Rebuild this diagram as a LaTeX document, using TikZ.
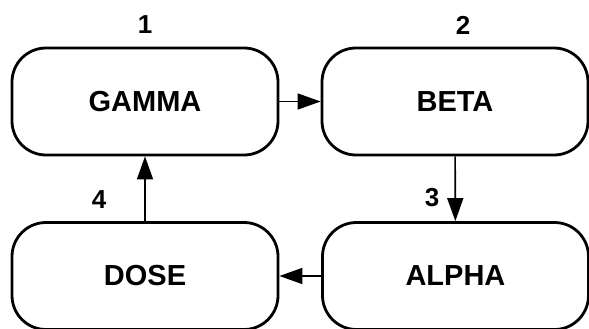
\documentclass[tikz,border=0pt]{standalone}
\usepackage{fontspec}
\setmainfont{Liberation Sans}
\usetikzlibrary{
    arrows.meta,
    positioning
}
\tikzset{
    stage/.style={draw, rectangle, rounded corners=34pt, line width=2.8pt,
        minimum width=266pt, minimum height=107pt, font=\fontsize{29}{32}\selectfont\bfseries},
    num/.style={font=\fontsize{26}{29}\selectfont\bfseries},
    flow/.style={line width=1.6pt, -{Triangle[length=23pt,width=16pt]}}
}

\begin{document}
\begin{tikzpicture}[x=1pt, y=-1pt]
                                \useasboundingbox (0, 0) rectangle (589, 329);
                                \node[stage] (gamma) at (145, 101.5) {GAMMA};
                                \node[stage] (beta) at (455, 101.5) {BETA};
                                \node[stage] (alpha) at (455.5, 276) {ALPHA};
                                \node[stage] (dose) at (145, 276) {DOSE};
                                \node[num] (n1) at (145, 25) {1};
                                \node[num] (n2) at (463, 25) {2};
                                \node[num] (n3) at (432, 198) {3};
                                \node[num] (n4) at (99, 200) {4};
                                \draw[flow] (gamma) -- (beta);
                                \draw[flow] (beta) -- (alpha);
                                \draw[flow] (alpha) -- (dose);
                                \draw[flow] (dose) -- (gamma);
                            \end{tikzpicture}
\end{document}
